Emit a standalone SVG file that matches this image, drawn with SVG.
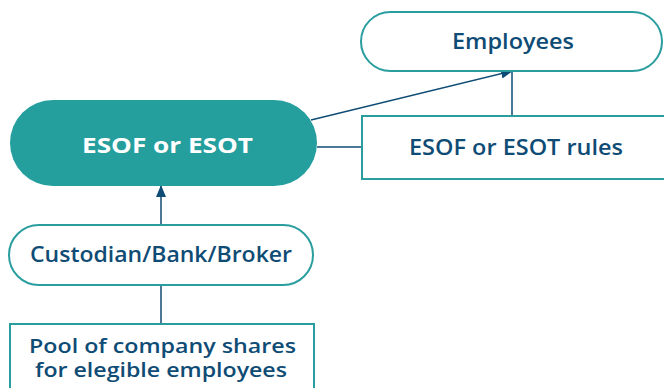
<svg xmlns="http://www.w3.org/2000/svg" width="664" height="388" viewBox="0 0 664 388">
<style>
.box{fill:#fff;stroke:#2a9d9f;stroke-width:2}
.t{font-family:"Open Sans","Liberation Sans",sans-serif;font-size:22px;fill:#0f4c75;text-anchor:middle;font-weight:600}
.s{font-size:20.5px}
.w{fill:#fff;font-weight:700}
.c{stroke:#0f4c75;stroke-width:1.5;fill:none}
</style>
<defs>
<marker id="ah" markerWidth="12" markerHeight="10" refX="11" refY="5" orient="auto" markerUnits="userSpaceOnUse">
<path d="M0,0 L12,5 L0,10 Z" fill="#0f4c75"/>
</marker>
</defs>
<g id="connectors">
<line class="c" x1="161" y1="324" x2="161" y2="285"/>
<line class="c" x1="161" y1="225" x2="161" y2="186" marker-end="url(#ah)"/>
<line class="c" x1="317" y1="147" x2="362" y2="147"/>
<line class="c" x1="512" y1="115" x2="512" y2="71"/>
<line class="c" x1="311" y1="120" x2="512" y2="71" marker-end="url(#ah)"/>
</g>
<g id="employees">
<rect class="box" x="361" y="12" width="301" height="59" rx="29.5"/>
<text class="t" x="513" y="49" textLength="122" lengthAdjust="spacingAndGlyphs">Employees</text>
</g>
<g id="esof">
<rect x="10" y="100" width="307" height="86" rx="43" fill="#259e9e"/>
<text class="t w" x="167.5" y="153" textLength="171" lengthAdjust="spacingAndGlyphs">ESOF or ESOT</text>
</g>
<g id="rules">
<rect class="box" x="362" y="116" width="304" height="63"/>
<text class="t" x="516" y="155" textLength="214" lengthAdjust="spacingAndGlyphs">ESOF or ESOT rules</text>
</g>
<g id="custodian">
<rect class="box" x="9" y="225" width="304" height="60" rx="30"/>
<text class="t" x="161" y="262" textLength="262" lengthAdjust="spacingAndGlyphs">Custodian/Bank/Broker</text>
</g>
<g id="pool">
<rect class="box" x="10" y="324" width="304" height="70"/>
<text class="t s" x="162.5" y="353" textLength="267" lengthAdjust="spacingAndGlyphs">Pool of company shares</text>
<text class="t s" x="161" y="377" textLength="252" lengthAdjust="spacingAndGlyphs">for elegible employees</text>
</g>
</svg>
